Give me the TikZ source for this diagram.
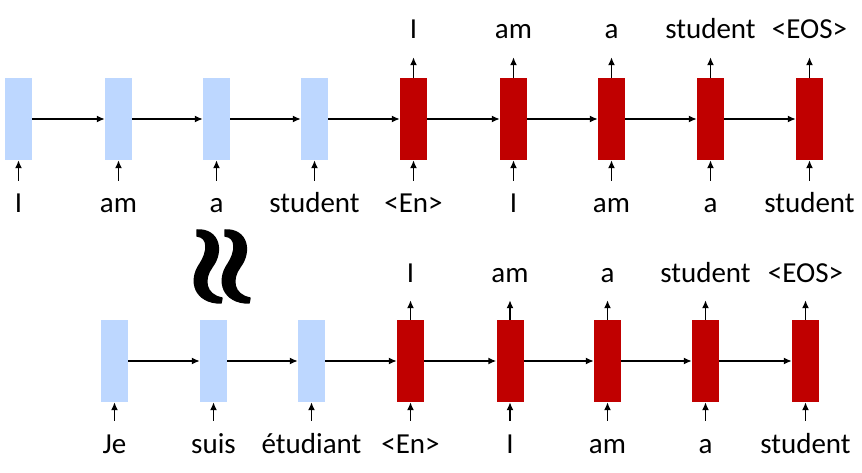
\documentclass[tikz,border=0pt]{standalone}
\usepackage{fontspec}
\setmainfont{Carlito}
\usetikzlibrary{arrows.meta}
\definecolor{encblue}{RGB}{189,215,255}
\definecolor{decred}{RGB}{192,0,0}

\begin{document}
\begin{tikzpicture}[x=1pt,y=-1pt]
			\tikzstyle{enc} = [rectangle,fill=encblue,inner sep=0pt,minimum width=27pt,minimum height=82pt]
			\tikzstyle{dec} = [rectangle,fill=decred,inner sep=0pt,minimum width=27pt,minimum height=82pt]
			\tikzstyle{word} = [anchor=base,inner sep=0pt,text height=20pt,text depth=6pt,font=\fontsize{29}{34}\selectfont]
			\tikzstyle{edge} = [-{Latex[length=8pt,width=7pt]},line width=1.5pt]
			\tikzstyle{edgein} = [edge,shorten <=12pt]
			\tikzstyle{edgeout} = [edge,shorten >=12pt]
			\tikzstyle{wave} = [fill=black,line width=1.5pt,draw=black,line join=round]
			\useasboundingbox (0,0) rectangle (862,473);
			% upper row
			\node[enc] (e1) at (18.5,119) {};
			\node[enc] (e2) at (118.5,119) {};
			\node[enc] (e3) at (216.5,119) {};
			\node[enc] (e4) at (314.5,119) {};
			\node[dec] (d1) at (413.5,119) {};
			\node[dec] (d2) at (513.5,119) {};
			\node[dec] (d3) at (611.5,119) {};
			\node[dec] (d4) at (710.5,119) {};
			\node[dec] (d5) at (809.5,119) {};
			\node[word] (ie1) at (18.5,213) {I};
			\node[word] (ie2) at (118.5,213) {am};
			\node[word] (ie3) at (216.5,213) {a};
			\node[word] (ie4) at (314.5,213) {student};
			\node[word] (id1) at (413.5,213) {<En>};
			\node[word] (id2) at (513.5,213) {I};
			\node[word] (id3) at (611.5,213) {am};
			\node[word] (id4) at (710.5,213) {a};
			\node[word] (id5) at (809.5,213) {student};
			\node[word] (od1) at (413.5,39) {I};
			\node[word] (od2) at (513.5,39) {am};
			\node[word] (od3) at (611.5,39) {a};
			\node[word] (od4) at (710.5,39) {student};
			\node[word] (od5) at (809.5,39) {<EOS>};
			\draw[edge] (e1)--(e2);
			\draw[edge] (e2)--(e3);
			\draw[edge] (e3)--(e4);
			\draw[edge] (e4)--(d1);
			\draw[edge] (d1)--(d2);
			\draw[edge] (d2)--(d3);
			\draw[edge] (d3)--(d4);
			\draw[edge] (d4)--(d5);
			\draw[edgein] (ie1.north)--(e1.south);
			\draw[edgein] (ie2.north)--(e2.south);
			\draw[edgein] (ie3.north)--(e3.south);
			\draw[edgein] (ie4.north)--(e4.south);
			\draw[edgein] (id1.north)--(d1.south);
			\draw[edgein] (id2.north)--(d2.south);
			\draw[edgein] (id3.north)--(d3.south);
			\draw[edgein] (id4.north)--(d4.south);
			\draw[edgein] (id5.north)--(d5.south);
			\draw[edgeout] (d1.north)--(od1.south);
			\draw[edgeout] (d2.north)--(od2.south);
			\draw[edgeout] (d3.north)--(od3.south);
			\draw[edgeout] (d4.north)--(od4.south);
			\draw[edgeout] (d5.north)--(od5.south);
			% lower row
			\node[enc] (f1) at (114.5,361) {};
			\node[enc] (f2) at (213.5,361) {};
			\node[enc] (f3) at (311.5,361) {};
			\node[dec] (g1) at (410.5,361) {};
			\node[dec] (g2) at (510,361) {};
			\node[dec] (g3) at (607.5,361) {};
			\node[dec] (g4) at (705.5,361) {};
			\node[dec] (g5) at (805.5,361) {};
			\node[word] (if1) at (114.5,453) {Je};
			\node[word] (if2) at (213.5,453) {suis};
			\node[word] (if3) at (311.5,453) {étudiant};
			\node[word] (ig1) at (410.5,453) {<En>};
			\node[word] (ig2) at (510,453) {I};
			\node[word] (ig3) at (607.5,453) {am};
			\node[word] (ig4) at (705.5,453) {a};
			\node[word] (ig5) at (805.5,453) {student};
			\node[word] (og1) at (410.5,282) {I};
			\node[word] (og2) at (510,282) {am};
			\node[word] (og3) at (607.5,282) {a};
			\node[word] (og4) at (705.5,282) {student};
			\node[word] (og5) at (805.5,282) {<EOS>};
			\draw[edge] (f1)--(f2);
			\draw[edge] (f2)--(f3);
			\draw[edge] (f3)--(g1);
			\draw[edge] (g1)--(g2);
			\draw[edge] (g2)--(g3);
			\draw[edge] (g3)--(g4);
			\draw[edge] (g4)--(g5);
			\draw[edgein] (if1.north)--(f1.south);
			\draw[edgein] (if2.north)--(f2.south);
			\draw[edgein] (if3.north)--(f3.south);
			\draw[edgein] (ig1.north)--(g1.south);
			\draw[edgein] (ig2.north)--(g2.south);
			\draw[edgein] (ig3.north)--(g3.south);
			\draw[edgein] (ig4.north)--(g4.south);
			\draw[edgein] (ig5.north)--(g5.south);
			\draw[edgeout] (g1.north)--(og1.south);
			\draw[edgeout] (g2.north)--(og2.south);
			\draw[edgeout] (g3.north)--(og3.south);
			\draw[edgeout] (g4.north)--(og4.south);
			\draw[edgeout] (g5.north)--(og5.south);
			% wavy sign between the rows
			\draw[wave] (197,230) .. controls (219,229) and (224,251) .. (212,267) .. controls (203,279) and (205,295) .. (222,298) -- (221,303) .. controls (195,303) and (188,281) .. (200,264) .. controls (208,252) and (209,237) .. (197,236) -- cycle;
			\draw[wave] (225,230) .. controls (247,229) and (252,251) .. (240,267) .. controls (231,279) and (233,295) .. (250,298) -- (249,303) .. controls (223,303) and (216,281) .. (228,264) .. controls (236,252) and (237,237) .. (225,236) -- cycle;
\end{tikzpicture}
\end{document}
